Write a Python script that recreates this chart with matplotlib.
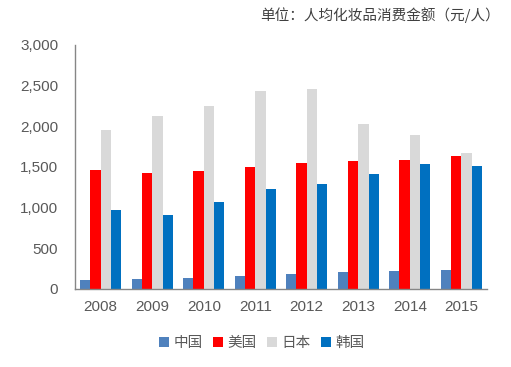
import matplotlib
matplotlib.use("Agg")
import matplotlib.pyplot as plt
import numpy as np

years = ["2008", "2009", "2010", "2011", "2012", "2013", "2014", "2015"]
series_names = ["中国", "美国", "日本", "韩国"]
china = [115, 123, 140, 164, 189, 209, 226, 238]
usa = [1465, 1428, 1449, 1506, 1547, 1572, 1592, 1637]
japan = [1961, 2126, 2253, 2433, 2454, 2027, 1892, 1666]
korea = [977, 907, 1075, 1231, 1297, 1412, 1543, 1514]
colors = ["#4F81BD", "#FF0000", "#D9D9D9", "#0070C0"]
yticks = [0, 500, 1000, 1500, 2000, 2500, 3000]
title = "单位：人均化妆品消费金额（元/人）"

plt.rcParams['font.family'] = ['Noto Sans CJK SC', 'DejaVu Sans']

fig = plt.figure(figsize=(5.11, 3.67), dpi=100)
ax = fig.add_axes([75/511, 78/367, 412/511, 244/367])

x = np.arange(len(years))
w = 0.2
data = [china, usa, japan, korea]
for i, (name, vals, c) in enumerate(zip(series_names, data, colors)):
    ax.bar(x + (i - 1.5) * w, vals, width=w, color=c, label=name)

ax.set_xlim(-0.5, len(years) - 0.5)
ax.set_ylim(0, 3000)
ax.set_yticks(yticks)
ax.set_yticklabels([f"{v:,}" for v in yticks], family=['Liberation Sans', 'DejaVu Sans'])
ax.set_xticks(x)
ax.set_xticklabels(years, family=['Liberation Sans', 'DejaVu Sans'])
ax.tick_params(axis='both', length=0, labelsize=11, colors='#595959')
ax.tick_params(axis='y', pad=12)
ax.tick_params(axis='x', pad=8)
for s in ['top', 'right']:
    ax.spines[s].set_visible(False)
for s in ['left', 'bottom']:
    ax.spines[s].set_color('#868686')
    ax.spines[s].set_linewidth(1)

fig.text(500/511, 1 - 15/367, title, ha='right', va='center', fontsize=10.5, color='#404040')

leg = fig.legend(loc='center', bbox_to_anchor=(262/511, 1 - 343/367), ncol=4, frameon=False,
                 fontsize=10.5, handlelength=0.7, handleheight=0.7, handletextpad=0.3,
                 columnspacing=0.7, labelcolor='#595959')

fig.savefig("out.png", dpi=100)
